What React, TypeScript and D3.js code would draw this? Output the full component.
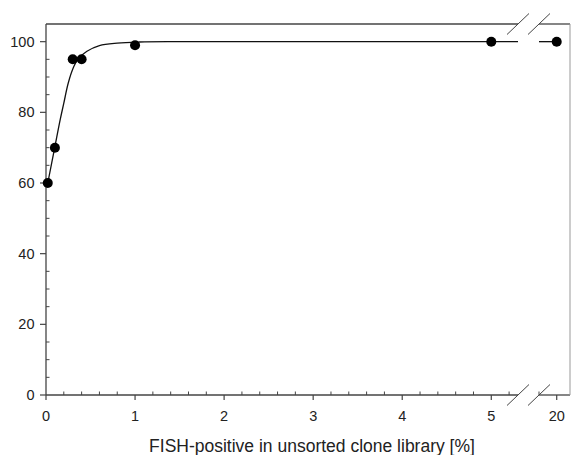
import React, { useEffect, useRef } from "react";
import * as d3 from "d3";

// measured points
const pointX = [0.02, 0.1, 0.3, 0.4, 1, 5, 20];
const pointY = [60, 70, 95, 95, 99, 100, 100];

// fitted curve
const curveX = [0.02, 0.1, 0.16, 0.2, 0.25, 0.31, 0.36, 0.46, 0.6, 0.8, 1.05, 1.5, 5.3];
const curveY = [60, 70.3, 78, 82.6, 88.3, 92.8, 95.1, 97.3, 98.9, 99.6, 99.9, 100, 100];
const curveTailX = [19.8, 20];
const curveTailY = [100, 100];

const xMajor = [0, 1, 2, 3, 4, 5, 20];
const xMajorLabels = ["0", "1", "2", "3", "4", "5", "20"];
const yMajor = [0, 20, 40, 60, 80, 100];
const yMajorLabels = ["0", "20", "40", "60", "80", "100"];

const xTitle = "FISH-positive in unsorted clone library [%]";

export default function App() {
  const ref = useRef<SVGSVGElement>(null);

  useEffect(() => {
    const svg = d3.select(ref.current);
    svg.selectAll("*").remove();

    const left = 46, right = 570, top = 24, bottom = 395;
    const breakA = 5.3, breakB = 19.8;

    // broken axis: 0..5.3 then 19.8..20.15
    const x = d3.scaleLinear().domain([0, breakA, breakB, 20.15]).range([left, 518, 539, right]);
    const y = d3.scaleLinear().domain([0, 105]).range([bottom, top]);

    const ink = "#111";
    const axisCol = "#444";
    const font = "Liberation Sans, Arial, sans-serif";

    // frame: top & bottom lines with gap
    [top, bottom].forEach(yy => {
      svg.append("line").attr("x1", left).attr("x2", x(breakA)).attr("y1", yy).attr("y2", yy)
        .attr("stroke", axisCol).attr("stroke-width", 1.3);
      svg.append("line").attr("x1", x(breakB)).attr("x2", right).attr("y1", yy).attr("y2", yy)
        .attr("stroke", axisCol).attr("stroke-width", 1.3);
    });
    // left axis
    svg.append("line").attr("x1", left).attr("x2", left).attr("y1", top).attr("y2", bottom)
      .attr("stroke", axisCol).attr("stroke-width", 1.3);
    // right border
    svg.append("line").attr("x1", right).attr("x2", right).attr("y1", top).attr("y2", bottom)
      .attr("stroke", "#999").attr("stroke-width", 1);

    // break slashes
    [top, bottom].forEach(yy => {
      [x(breakA), x(breakB)].forEach(xx => {
        svg.append("line")
          .attr("x1", xx - 11).attr("y1", yy + 10.5)
          .attr("x2", xx + 11).attr("y2", yy - 10.5)
          .attr("stroke", axisCol).attr("stroke-width", 1);
      });
    });

    // y ticks
    const yMinor = d3.range(5, 100, 5).filter(v => v % 20 !== 0);
    svg.selectAll(".ymin").data(yMinor).join("line")
      .attr("x1", left).attr("x2", left + 3.5)
      .attr("y1", d => y(d)).attr("y2", d => y(d))
      .attr("stroke", axisCol).attr("stroke-width", 1);
    svg.selectAll(".ymaj").data(yMajor).join("line")
      .attr("x1", left - 6).attr("x2", left)
      .attr("y1", d => y(d)).attr("y2", d => y(d))
      .attr("stroke", axisCol).attr("stroke-width", 1.2);
    svg.selectAll(".ylab").data(yMajor).join("text")
      .attr("x", left - 11.5).attr("y", d => y(d) + 5)
      .attr("text-anchor", "end")
      .style("font-family", font).style("font-size", "14.5px").style("fill", "#222")
      .text((d, i) => yMajorLabels[i]);

    // x ticks
    const xMinor = d3.range(0, 5.3, 0.2).filter(v => Math.abs(v - Math.round(v)) > 0.01).concat([19.8]);
    svg.selectAll(".xmin").data(xMinor).join("line")
      .attr("x1", d => x(d)).attr("x2", d => x(d))
      .attr("y1", bottom - 3.5).attr("y2", bottom)
      .attr("stroke", axisCol).attr("stroke-width", 1);
    svg.selectAll(".xmaj").data(xMajor).join("line")
      .attr("x1", d => x(d)).attr("x2", d => x(d))
      .attr("y1", bottom).attr("y2", bottom + 5)
      .attr("stroke", axisCol).attr("stroke-width", 1.2);
    svg.selectAll(".xlab").data(xMajor).join("text")
      .attr("x", d => x(d)).attr("y", 421)
      .attr("text-anchor", "middle")
      .style("font-family", font).style("font-size", "14.5px").style("fill", "#222")
      .text((d, i) => xMajorLabels[i]);

    svg.append("text")
      .attr("x", 312).attr("y", 452)
      .attr("text-anchor", "middle")
      .style("font-family", font).style("font-size", "17.5px").style("fill", "#222")
      .text(xTitle);

    // curve
    const line = d3.line<number>()
      .x(d => x(d))
      .curve(d3.curveCatmullRom.alpha(0.5));
    svg.append("path")
      .attr("d", line.y((d, i) => y(curveY[i]))(curveX))
      .attr("fill", "none").attr("stroke", ink).attr("stroke-width", 1.3);
    svg.append("path")
      .attr("d", line.y((d, i) => y(curveTailY[i]))(curveTailX))
      .attr("fill", "none").attr("stroke", ink).attr("stroke-width", 1.3);

    // points
    svg.selectAll(".pt").data(pointX).join("circle")
      .attr("cx", d => x(d)).attr("cy", (d, i) => y(pointY[i]))
      .attr("r", 5).attr("fill", "#000");
  }, []);

  return (
    <svg ref={ref} width={575} height={455}
      style={{ position: "absolute", left: 0, top: 0, background: "#fff" }} />
  );
}
